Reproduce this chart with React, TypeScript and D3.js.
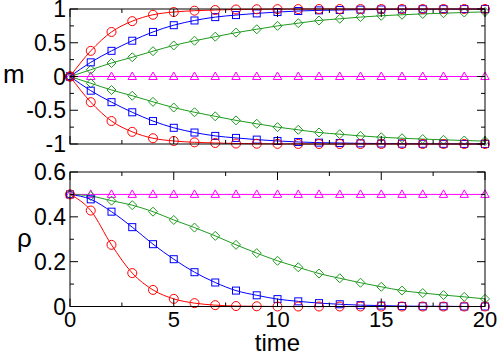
import React from "react";
import * as d3 from "d3";

const times = d3.range(0, 21);
const mRed = [0, 0.38, 0.66, 0.82, 0.915, 0.955, 0.975, 0.985, 0.993, 0.996, 0.998, 0.999, 1, 1, 1, 1, 1, 1, 1, 1, 1];
const mBlue = [0, 0.21, 0.38, 0.53, 0.66, 0.76, 0.83, 0.88, 0.91, 0.935, 0.955, 0.97, 0.98, 0.985, 0.99, 0.993, 0.995, 0.997, 0.998, 0.999, 0.999];
const mGreen = [0, 0.1, 0.2, 0.285, 0.375, 0.46, 0.53, 0.59, 0.65, 0.7, 0.75, 0.79, 0.83, 0.855, 0.88, 0.9, 0.915, 0.927, 0.938, 0.948, 0.957];
const mMagenta = times.map(() => 0);
const rhoRed = [0.5, 0.428, 0.275, 0.149, 0.074, 0.034, 0.015, 0.006, 0.002, 0.001, 0, 0, 0, 0, 0, 0, 0, 0, 0, 0, 0];
const rhoBlue = [0.5, 0.478, 0.423, 0.354, 0.278, 0.211, 0.153, 0.107, 0.071, 0.05, 0.033, 0.023, 0.015, 0.01, 0.006, 0.004, 0.002, 0.001, 0.001, 0, 0];
const rhoGreen = [0.5, 0.493, 0.472, 0.452, 0.423, 0.386, 0.352, 0.315, 0.275, 0.238, 0.204, 0.175, 0.147, 0.126, 0.106, 0.088, 0.071, 0.06, 0.051, 0.043, 0.034];
const rhoMagenta = times.map(() => 0.5);

const xTicks = [0, 5, 10, 15, 20];
const mTicks = [-1, -0.5, 0, 0.5, 1];
const rhoTicks = [0, 0.2, 0.4, 0.6];

const RED = "#ff0000";
const BLUE = "#0000ff";
const GREEN = "#1f9a1f";
const MAGENTA = "#ff00ff";
const FONT = "Liberation Sans, Arial, sans-serif";

const X0 = 70, X1 = 485;
const x = d3.scaleLinear().domain([0, 20]).range([X0, X1]);

type Shape = "circle" | "square" | "diamond" | "triangle";

function Marker({ cx, cy, shape, color }: { cx: number; cy: number; shape: Shape; color: string }) {
  const common = { fill: "none", stroke: color, strokeWidth: 1 };
  if (shape === "circle") return <circle cx={cx} cy={cy} r={4.5} {...common} />;
  if (shape === "square") return <rect x={cx - 3.5} y={cy - 3.5} width={7} height={7} {...common} />;
  if (shape === "diamond")
    return <path d={`M${cx},${cy - 4.5}L${cx + 4.5},${cy}L${cx},${cy + 4.5}L${cx - 4.5},${cy}Z`} {...common} />;
  return <path d={`M${cx},${cy - 4.5}L${cx + 4.2},${cy + 3}L${cx - 4.2},${cy + 3}Z`} {...common} />;
}

function Series({ vals, y, shape, color }: { vals: number[]; y: d3.ScaleLinear<number, number>; shape: Shape; color: string }) {
  const line = d3
    .line<number>()
    .x((_, i) => x(times[i]))
    .y((d) => y(d))
    .curve(d3.curveMonotoneX);
  return (
    <g>
      <path d={line(vals) || ""} fill="none" stroke={color} strokeWidth={1} />
      {vals.map((v, i) => (
        <Marker key={i} cx={x(times[i])} cy={y(v)} shape={shape} color={color} />
      ))}
    </g>
  );
}

const textStyle = (size: number) => ({ fontFamily: FONT, fontSize: size + "px" });

function Frame({ y, yMajor, yMinor, showX }: { y: d3.ScaleLinear<number, number>; yMajor: number[]; yMinor: number[]; showX: boolean }) {
  const [Y1, Y0] = y.range();
  const xMinor = d3.range(2.5, 20, 5);
  const L = 8, l = 4;
  return (
    <g stroke="#000" strokeWidth={1}>
      <rect x={X0} y={Y0} width={X1 - X0} height={Y1 - Y0} fill="none" />
      {xTicks.map((t) => (
        <g key={"xt" + t}>
          <line x1={x(t)} x2={x(t)} y1={Y1} y2={Y1 - L} />
          <line x1={x(t)} x2={x(t)} y1={Y0} y2={Y0 + L} />
        </g>
      ))}
      {xMinor.map((t) => (
        <g key={"xm" + t}>
          <line x1={x(t)} x2={x(t)} y1={Y1} y2={Y1 - l} />
          <line x1={x(t)} x2={x(t)} y1={Y0} y2={Y0 + l} />
        </g>
      ))}
      {yMajor.map((t) => (
        <g key={"yt" + t}>
          <line x1={X0} x2={X0 + L} y1={y(t)} y2={y(t)} />
          <line x1={X1} x2={X1 - L} y1={y(t)} y2={y(t)} />
        </g>
      ))}
      {yMinor.map((t) => (
        <g key={"ym" + t}>
          <line x1={X0} x2={X0 + l} y1={y(t)} y2={y(t)} />
          <line x1={X1} x2={X1 - l} y1={y(t)} y2={y(t)} />
        </g>
      ))}
      <g stroke="none" fill="#000">
        {yMajor.map((t) => (
          <text key={"yl" + t} x={66} y={y(t) + 8} textAnchor="end" style={textStyle(23)}>
            {String(t)}
          </text>
        ))}
        {showX &&
          xTicks.map((t) => (
            <text key={"xl" + t} x={x(t)} y={Y1 + 20} textAnchor="middle" style={textStyle(22)}>
              {String(t)}
            </text>
          ))}
      </g>
    </g>
  );
}

export default function App() {
  const yTop = d3.scaleLinear().domain([-1, 1]).range([144, 9]);
  const yBot = d3.scaleLinear().domain([0, 0.6]).range([306.5, 172]);
  const neg = (a: number[]) => a.map((v) => -v);
  return (
    <svg width={498} height={355} style={{ position: "absolute", left: 0, top: 0, background: "#fff" }}>
      <rect width={498} height={355} fill="#fff" />
      <Series vals={mMagenta} y={yTop} shape="triangle" color={MAGENTA} />
      <Series vals={mGreen} y={yTop} shape="diamond" color={GREEN} />
      <Series vals={neg(mGreen)} y={yTop} shape="diamond" color={GREEN} />
      <Series vals={mBlue} y={yTop} shape="square" color={BLUE} />
      <Series vals={neg(mBlue)} y={yTop} shape="square" color={BLUE} />
      <Series vals={mRed} y={yTop} shape="circle" color={RED} />
      <Series vals={neg(mRed)} y={yTop} shape="circle" color={RED} />
      <Frame y={yTop} yMajor={mTicks} yMinor={[-0.75, -0.25, 0.25, 0.75]} showX={false} />

      <Series vals={rhoMagenta} y={yBot} shape="triangle" color={MAGENTA} />
      <Series vals={rhoGreen} y={yBot} shape="diamond" color={GREEN} />
      <Series vals={rhoBlue} y={yBot} shape="square" color={BLUE} />
      <Series vals={rhoRed} y={yBot} shape="circle" color={RED} />
      <Frame y={yBot} yMajor={rhoTicks} yMinor={[0.1, 0.3, 0.5]} showX={true} />

      <text x={3} y={83} style={textStyle(26)} fill="#000">m</text>
      <text x={17} y={247} style={textStyle(26)} fill="#000">ρ</text>
      <text x={277.5} y={350.5} style={textStyle(24)} fill="#000" textAnchor="middle">time</text>
    </svg>
  );
}
